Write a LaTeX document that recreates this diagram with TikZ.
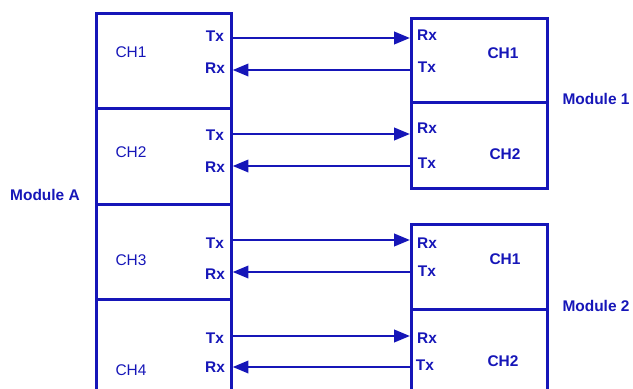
\documentclass[tikz,border=0pt]{standalone}
\usepackage{fontspec}
\setmainfont{Liberation Sans}
\usetikzlibrary{arrows.meta}
\definecolor{dblue}{RGB}{22,22,184}
\begin{document}
\begin{tikzpicture}[x=0.02cm,y=-0.02cm,
  box/.style={draw=dblue,line width=1.5pt,inner sep=0pt,anchor=north west},
  lbl/.style={text=dblue,font=\fontsize{8.8}{10}\selectfont,inner sep=0pt},
  blbl/.style={lbl,font=\fontsize{8.8}{10}\selectfont\bfseries},
  wire/.style={draw=dblue,line width=1.5pt},
  arr/.style={wire,-{Triangle[length=9pt,width=7pt]}}]
\useasboundingbox (0,0) rectangle (633,389);
\begin{scope}
\clip (0,0) rectangle (633,389);
% Module A channels
\node[box,minimum width=135*0.02cm,minimum height=95*0.02cm] (A1) at (95,12) {};
\node[box,minimum width=135*0.02cm,minimum height=96*0.02cm] (A2) at (95,107) {};
\node[box,minimum width=135*0.02cm,minimum height=95*0.02cm] (A3) at (95,203) {};
\node[box,minimum width=135*0.02cm,minimum height=110*0.02cm] (A4) at (95,298) {};
% Module 1
\node[box,minimum width=136*0.02cm,minimum height=84*0.02cm] (B1) at (410,17) {};
\node[box,minimum width=136*0.02cm,minimum height=86*0.02cm] (B2) at (410,101) {};
% Module 2
\node[box,minimum width=136*0.02cm,minimum height=85*0.02cm] (C1) at (410,223) {};
\node[box,minimum width=136*0.02cm,minimum height=100*0.02cm] (C2) at (410,308) {};
\end{scope}
% wire level coordinates
\coordinate (y1) at (0,38);
\coordinate (y2) at (0,70);
\coordinate (y3) at (0,134);
\coordinate (y4) at (0,166);
\coordinate (y5) at (0,240);
\coordinate (y6) at (0,272);
\coordinate (y7) at (0,336);
\coordinate (y8) at (0,367);
% connectors
\draw[arr] (A1.east |- y1) -- (B1.west |- y1);
\draw[arr] (B1.west |- y2) -- (A1.east |- y2);
\draw[arr] (A2.east |- y3) -- (B2.west |- y3);
\draw[arr] (B2.west |- y4) -- (A2.east |- y4);
\draw[arr] (A3.east |- y5) -- (C1.west |- y5);
\draw[arr] (C1.west |- y6) -- (A3.east |- y6);
\draw[arr] (A4.east |- y7) -- (C2.west |- y7);
\draw[arr] (C2.west |- y8) -- (A4.east |- y8);
% left labels
\node[lbl] (chA1) at (131,52) {CH1};
\node[lbl] (chA2) at (131,152) {CH2};
\node[lbl] (chA3) at (131,260) {CH3};
\node[lbl] (chA4) at (131,370) {CH4};
\node[blbl] (txA1) at (215,36) {Tx};
\node[blbl] (rxA1) at (215,68) {Rx};
\node[blbl] (txA2) at (215,135) {Tx};
\node[blbl] (rxA2) at (215,167) {Rx};
\node[blbl] (txA3) at (215,243) {Tx};
\node[blbl] (rxA3) at (215,274) {Rx};
\node[blbl] (txA4) at (215,338) {Tx};
\node[blbl] (rxA4) at (215,367) {Rx};
\node[blbl] (modA) at (45,195) {Module A};
% right labels
\node[blbl] (rxB1) at (427,35) {Rx};
\node[blbl] (txB1) at (427,67) {Tx};
\node[blbl] (chB1) at (503,53) {CH1};
\node[blbl] (rxB2) at (427,128) {Rx};
\node[blbl] (txB2) at (427,163) {Tx};
\node[blbl] (chB2) at (505,154) {CH2};
\node[blbl] (mod1) at (596,99) {Module 1};
\node[blbl] (rxC1) at (427,243) {Rx};
\node[blbl] (txC1) at (427,271) {Tx};
\node[blbl] (chC1) at (505,259) {CH1};
\node[blbl] (rxC2) at (427,338) {Rx};
\node[blbl] (txC2) at (425,365) {Tx};
\node[blbl] (chC2) at (503,361) {CH2};
\node[blbl] (mod2) at (596,306) {Module 2};
\end{tikzpicture}
\end{document}
